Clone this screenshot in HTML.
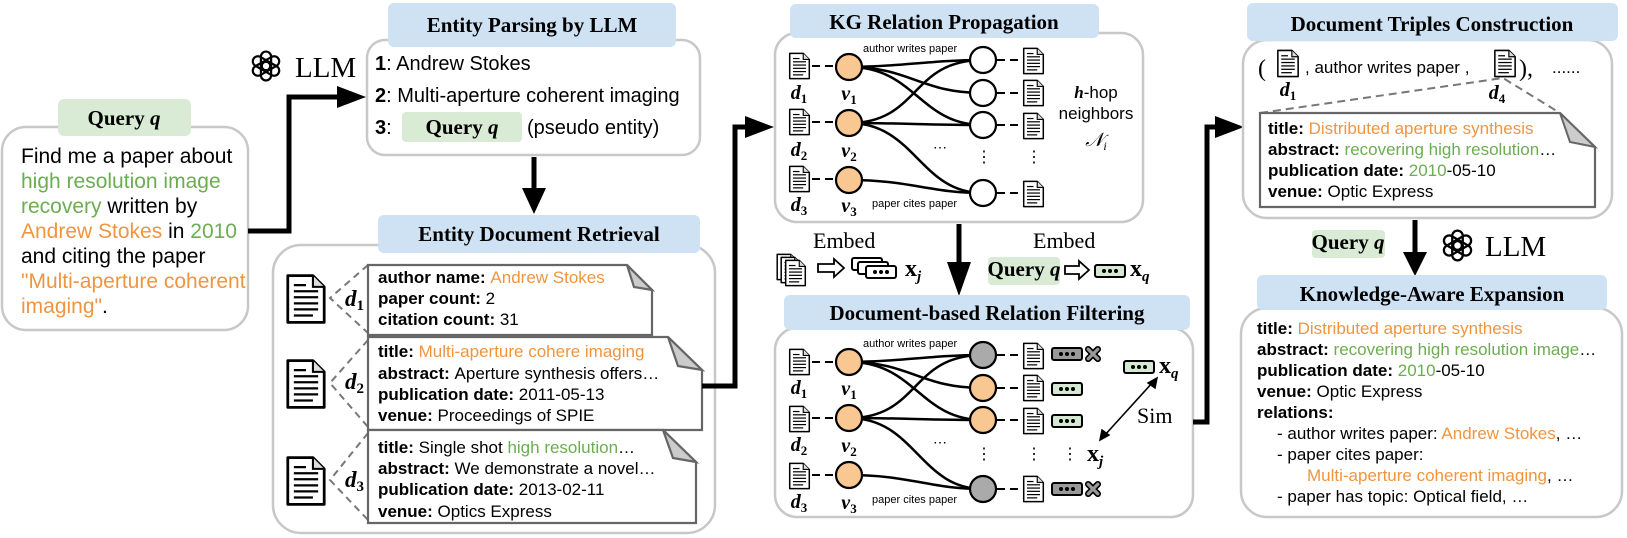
<!DOCTYPE html>
<html><head><meta charset="utf-8"><style>
html,body{margin:0;padding:0;background:#fff;}
svg{display:block;}
.s{font-family:"Liberation Sans",sans-serif;}
.r{font-family:"Liberation Serif",serif;}
.hd{font-family:"Liberation Serif",serif;font-weight:bold;font-size:21px;text-anchor:middle;}
.o{fill:#ef9540;} .g{fill:#6cad52;}
.eb rect{stroke:#000;stroke-width:2;}
</style></head><body>
<svg width="1627" height="538" viewBox="0 0 1627 538" xmlns="http://www.w3.org/2000/svg">
<defs>
<symbol id="doc" viewBox="0 0 24 30">
<path d="M1.5 1.5H16L22.5 8V28.5H1.5Z" fill="#fff" stroke="#000" stroke-width="1.6" stroke-linejoin="round"/>
<path d="M16 1.5V8H22.5" fill="#ddd" stroke="#000" stroke-width="1.2"/>
<g stroke="#000" stroke-width="1.3"><line x1="5" y1="7" x2="12" y2="7"/><line x1="5" y1="10.5" x2="19" y2="10.5"/><line x1="5" y1="14" x2="19" y2="14"/><line x1="5" y1="17.5" x2="19" y2="17.5"/><line x1="5" y1="21" x2="19" y2="21"/><line x1="5" y1="24.5" x2="16" y2="24.5"/></g>
</symbol>
<symbol id="dots" viewBox="0 0 32 14">
<circle cx="10" cy="7" r="2"/><circle cx="16" cy="7" r="2"/><circle cx="22" cy="7" r="2"/>
</symbol>
<symbol id="llm" viewBox="-20 -20 40 40">
<g fill="none" stroke="#000" stroke-width="2.6">
<rect x="-6" y="-17" width="12" height="22" rx="6"/>
<rect x="-6" y="-17" width="12" height="22" rx="6" transform="rotate(60)"/>
<rect x="-6" y="-17" width="12" height="22" rx="6" transform="rotate(120)"/>
<rect x="-6" y="-17" width="12" height="22" rx="6" transform="rotate(180)"/>
<rect x="-6" y="-17" width="12" height="22" rx="6" transform="rotate(240)"/>
<rect x="-6" y="-17" width="12" height="22" rx="6" transform="rotate(300)"/>
</g>
</symbol>
<symbol id="xm" viewBox="0 0 20 20">
<g stroke-linecap="round"><path d="M4 4L16 16M16 4L4 16" stroke="#000" stroke-width="8"/><path d="M4 4L16 16M16 4L4 16" stroke="#999" stroke-width="4"/></g>
</symbol>
</defs>

<!-- Query box -->
<rect x="2" y="127" width="246" height="203" rx="24" fill="#fff" stroke="#c8c8c8" stroke-width="2.5"/>
<rect x="58" y="99" width="133" height="37" rx="6" fill="#d9ebd4"/>
<text x="124" y="125" class="hd">Query <tspan font-style="italic">q</tspan></text>
<g class="s" font-size="21">
<text x="21" y="163">Find me a paper about</text>
<text x="21" y="188" class="g">high resolution image</text>
<text x="21" y="213"><tspan class="g">recovery</tspan> written by</text>
<text x="21" y="238"><tspan class="o">Andrew Stokes</tspan> in <tspan class="g">2010</tspan></text>
<text x="21" y="263">and citing the paper</text>
<text x="21" y="288" class="o">"Multi-aperture coherent</text>
<text x="21" y="313"><tspan class="o">imaging"</tspan>.</text>
</g>

<!-- Arrow query -> parsing -->
<path d="M248 231H289V97H340" fill="none" stroke="#000" stroke-width="5"/>
<path d="M337 86L366 97L337 108Z"/>
<use href="#llm" x="249" y="49" width="34" height="34"/>
<text x="295" y="77" class="r" font-size="29">LLM</text>

<!-- Entity Parsing -->
<rect x="367" y="40" width="333" height="115" rx="18" fill="#fff" stroke="#c8c8c8" stroke-width="2.5"/>
<rect x="388" y="3" width="288" height="44" rx="6" fill="#cfe2f3"/>
<text x="532" y="32" class="hd">Entity Parsing by LLM</text>
<g class="s" font-size="20">
<text x="375" y="70"><tspan font-weight="bold">1</tspan>: Andrew Stokes</text>
<text x="375" y="102"><tspan font-weight="bold">2</tspan>: Multi-aperture coherent imaging</text>
<text x="375" y="134"><tspan font-weight="bold">3</tspan>:</text>
<text x="527" y="134">(pseudo entity)</text>
</g>
<rect x="402" y="112" width="120" height="30" rx="4" fill="#d9ebd4"/>
<text x="462" y="134" class="hd" font-size="19">Query <tspan font-style="italic">q</tspan></text>

<!-- down arrow -->
<line x1="534" y1="157" x2="534" y2="190" stroke="#000" stroke-width="5"/>
<path d="M522 188L546 188L534 214Z"/>

<!-- Entity Document Retrieval -->
<rect x="273" y="245" width="442" height="288" rx="28" fill="#fff" stroke="#c8c8c8" stroke-width="2.5"/>
<rect x="378" y="215" width="322" height="38" rx="6" fill="#cfe2f3"/>
<text x="539" y="241" class="hd">Entity Document Retrieval</text>
<use href="#doc" x="285" y="273" width="42" height="52"/>
<use href="#doc" x="285" y="358" width="42" height="52"/>
<use href="#doc" x="285" y="455" width="42" height="52"/>
<g stroke="#777" stroke-width="2" stroke-dasharray="7,5" fill="none">
<path d="M368 265L330 298L368 333"/>
<path d="M368 340L330 383L368 427"/>
<path d="M368 433L330 480L368 520"/>
</g>
<g class="r" font-style="italic" font-weight="bold" font-size="23">
<text x="345" y="306">d<tspan font-size="15" font-style="normal" dy="4">1</tspan></text>
<text x="345" y="389">d<tspan font-size="15" font-style="normal" dy="4">2</tspan></text>
<text x="345" y="487">d<tspan font-size="15" font-style="normal" dy="4">3</tspan></text>
</g>
<!-- cards -->
<g stroke="#666" stroke-width="2.2">
<path d="M368 265H627L652 290V335H368Z" fill="#fff"/><path d="M627 265L634 287L652 290Z" fill="#ccc"/>
<path d="M368 337H668L702 370V430H368Z" fill="#fff"/><path d="M668 337L678 366L702 370Z" fill="#ccc"/>
<path d="M368 430H663L696 462V523H368Z" fill="#fff"/><path d="M663 430L673 458L696 462Z" fill="#ccc"/>
</g>
<g class="s" font-size="17">
<text x="378" y="283"><tspan font-weight="bold">author name: </tspan><tspan class="o">Andrew Stokes</tspan></text>
<text x="378" y="304"><tspan font-weight="bold">paper count: </tspan>2</text>
<text x="378" y="325"><tspan font-weight="bold">citation count: </tspan>31</text>
<text x="378" y="357"><tspan font-weight="bold">title: </tspan><tspan class="o">Multi-aperture cohere imaging</tspan></text>
<text x="378" y="379"><tspan font-weight="bold">abstract: </tspan>Aperture synthesis offers…</text>
<text x="378" y="400"><tspan font-weight="bold">publication date: </tspan>2011-05-13</text>
<text x="378" y="421"><tspan font-weight="bold">venue: </tspan>Proceedings of SPIE</text>
<text x="378" y="453"><tspan font-weight="bold">title: </tspan>Single shot <tspan class="g">high resolution</tspan>…</text>
<text x="378" y="474"><tspan font-weight="bold">abstract: </tspan>We demonstrate a novel…</text>
<text x="378" y="495"><tspan font-weight="bold">publication date: </tspan>2013-02-11</text>
<text x="378" y="517"><tspan font-weight="bold">venue: </tspan>Optics Express</text>
</g>

<!-- arrow retrieval -> KG -->
<path d="M702 386H735V127H750" fill="none" stroke="#000" stroke-width="5"/>
<path d="M745 116L774 127L745 138Z"/>

<!-- KG Relation Propagation -->
<rect x="775" y="33" width="368" height="189" rx="22" fill="#fff" stroke="#c8c8c8" stroke-width="2.5"/>
<rect x="790" y="4" width="309" height="34" rx="6" fill="#cfe2f3"/>
<text x="944" y="29" class="hd">KG Relation Propagation</text>

<g>
<use href="#doc" x="788" y="52" width="23" height="28"/>
<use href="#doc" x="788" y="108" width="23" height="28"/>
<use href="#doc" x="788" y="165" width="23" height="28"/>
<g stroke="#000" stroke-width="2" stroke-dasharray="8,5"><line x1="812" y1="66" x2="836" y2="66"/><line x1="812" y1="122" x2="836" y2="122"/><line x1="812" y1="179" x2="836" y2="179"/></g>
<g fill="none" stroke="#000" stroke-width="2.5">
<path d="M849 67C900 67 930 60 983 60"/>
<path d="M849 67C910 67 920 93 983 93"/>
<path d="M849 67C915 67 920 125 983 125"/>
<path d="M849 123C920 123 910 60 983 60"/>
<path d="M849 123C900 123 930 125 983 125"/>
<path d="M849 123C915 123 920 193 983 193"/>
<path d="M849 180C910 180 930 193 983 193"/>
</g>
<g fill="#f9c791" stroke="#000" stroke-width="2.2"><circle cx="849" cy="67" r="13"/><circle cx="849" cy="123" r="13"/><circle cx="849" cy="180" r="13"/></g>
<g fill="#fff" stroke="#000" stroke-width="2.2"><circle cx="983" cy="60" r="13"/><circle cx="983" cy="93" r="13"/><circle cx="983" cy="125" r="13"/><circle cx="983" cy="193" r="13"/></g>
<g stroke="#000" stroke-width="2" stroke-dasharray="8,5"><line x1="997" y1="60" x2="1021" y2="60"/><line x1="997" y1="93" x2="1021" y2="93"/><line x1="997" y1="125" x2="1021" y2="125"/><line x1="997" y1="193" x2="1021" y2="193"/></g>
<use href="#doc" x="1022" y="47" width="23" height="28"/>
<use href="#doc" x="1022" y="79" width="23" height="28"/>
<use href="#doc" x="1022" y="112" width="23" height="28"/>
<use href="#doc" x="1022" y="180" width="23" height="28"/>
</g>
<g class="r" font-style="italic" font-size="20" font-weight="bold" text-anchor="middle">
<text x="799" y="99">d<tspan font-size="13" font-style="normal" dy="4">1</tspan></text>
<text x="799" y="156">d<tspan font-size="13" font-style="normal" dy="4">2</tspan></text>
<text x="799" y="211">d<tspan font-size="13" font-style="normal" dy="4">3</tspan></text>
<text x="849" y="100">v<tspan font-size="13" font-style="normal" dy="4">1</tspan></text>
<text x="849" y="157">v<tspan font-size="13" font-style="normal" dy="4">2</tspan></text>
<text x="849" y="212">v<tspan font-size="13" font-style="normal" dy="4">3</tspan></text>
</g>
<text x="863" y="52" class="s" font-size="11">author writes paper</text>
<text x="872" y="207" class="s" font-size="11">paper cites paper</text>
<text x="940" y="152" class="s" font-size="14" text-anchor="middle">⋯</text>
<text x="984" y="162" class="s" font-size="16" text-anchor="middle">⋮</text>
<text x="1034" y="162" class="s" font-size="16" text-anchor="middle">⋮</text>
<text x="1096" y="98" class="s" font-size="17" text-anchor="middle"><tspan class="r" font-style="italic" font-weight="bold">h</tspan>-hop</text>
<text x="1096" y="119" class="s" font-size="17" text-anchor="middle">neighbors</text>
<text x="1096" y="146" class="r" font-size="19" font-style="italic" text-anchor="middle">𝒩<tspan font-size="12" dy="4">i</tspan></text>

<!-- middle arrow -->
<line x1="959" y1="224" x2="959" y2="266" stroke="#000" stroke-width="5"/>
<path d="M947 262L971 262L959 296Z"/>

<!-- Embed row -->
<text x="813" y="248" class="r" font-size="22">Embed</text>
<use href="#doc" x="775" y="253" width="24" height="28"/>
<use href="#doc" x="779" y="256" width="24" height="28"/>
<use href="#doc" x="783" y="259" width="25" height="28"/>
<path d="M818 264H834V259L844 268L834 277V272H818Z" fill="#fff" stroke="#000" stroke-width="1.8"/>
<g class="eb">
<rect x="852" y="258" width="30" height="12" rx="2" fill="#fff"/>
<rect x="858" y="262" width="30" height="12" rx="2" fill="#fff"/>
<rect x="866" y="266" width="30" height="12" rx="2" fill="#fff"/>
</g>
<use href="#dots" x="865" y="265" width="32" height="14"/>
<text x="905" y="276" class="r" font-size="24" font-weight="bold">x<tspan font-size="15" font-style="italic" dy="5">j</tspan></text>

<text x="1033" y="248" class="r" font-size="22">Embed</text>
<rect x="988" y="257" width="72" height="28" rx="4" fill="#d9ebd4"/>
<text x="1024" y="276" class="hd" font-size="16">Query <tspan font-style="italic">q</tspan></text>
<path d="M1065 266H1079V261L1089 270L1079 279V274H1065Z" fill="#fff" stroke="#000" stroke-width="1.8"/>
<g class="eb"><rect x="1095" y="265" width="30" height="12" rx="2" fill="#d5e8d4"/></g>
<use href="#dots" x="1094" y="264" width="32" height="14"/>
<text x="1130" y="276" class="r" font-size="24" font-weight="bold">x<tspan font-size="15" font-style="italic" dy="5">q</tspan></text>

<!-- DRF -->
<rect x="775" y="328" width="418" height="189" rx="22" fill="#fff" stroke="#c8c8c8" stroke-width="2.5"/>
<rect x="784" y="295" width="406" height="35" rx="6" fill="#cfe2f3"/>
<text x="987" y="320" class="hd">Document-based Relation Filtering</text>
<g>
<use href="#doc" x="788" y="348" width="23" height="28"/>
<use href="#doc" x="788" y="405" width="23" height="28"/>
<use href="#doc" x="788" y="462" width="23" height="28"/>
<g stroke="#000" stroke-width="2" stroke-dasharray="8,5"><line x1="812" y1="362" x2="836" y2="362"/><line x1="812" y1="418" x2="836" y2="418"/><line x1="812" y1="475" x2="836" y2="475"/></g>
<g fill="none" stroke="#000" stroke-width="2.5">
<path d="M849 362C900 362 930 355 983 355"/>
<path d="M849 362C910 362 920 388 983 388"/>
<path d="M849 362C915 362 920 420 983 420"/>
<path d="M849 418C920 418 910 355 983 355"/>
<path d="M849 418C900 418 930 420 983 420"/>
<path d="M849 418C915 418 920 489 983 489"/>
<path d="M849 475C910 475 930 489 983 489"/>
</g>
<g fill="#f9c791" stroke="#000" stroke-width="2.2"><circle cx="849" cy="362" r="13"/><circle cx="849" cy="418" r="13"/><circle cx="849" cy="475" r="13"/><circle cx="983" cy="388" r="13"/><circle cx="983" cy="420" r="13"/></g>
<g fill="#aaa" stroke="#000" stroke-width="2.2"><circle cx="983" cy="355" r="13"/><circle cx="983" cy="489" r="13"/></g>
<g stroke="#000" stroke-width="2" stroke-dasharray="8,5"><line x1="997" y1="355" x2="1021" y2="355"/><line x1="997" y1="388" x2="1021" y2="388"/><line x1="997" y1="420" x2="1021" y2="420"/><line x1="997" y1="489" x2="1021" y2="489"/></g>
<use href="#doc" x="1022" y="342" width="23" height="28"/>
<use href="#doc" x="1022" y="374" width="23" height="28"/>
<use href="#doc" x="1022" y="407" width="23" height="28"/>
<use href="#doc" x="1022" y="475" width="23" height="28"/>
<g class="eb">
<rect x="1052" y="348" width="30" height="12" rx="2" fill="#999"/>
<rect x="1052" y="383" width="30" height="12" rx="2" fill="#d5e8d4"/>
<rect x="1052" y="415" width="30" height="12" rx="2" fill="#d5e8d4"/>
<rect x="1052" y="483" width="30" height="12" rx="2" fill="#999"/>
</g>
<use href="#dots" x="1051" y="347" width="32" height="14"/>
<use href="#dots" x="1051" y="382" width="32" height="14"/>
<use href="#dots" x="1051" y="414" width="32" height="14"/>
<use href="#dots" x="1051" y="482" width="32" height="14"/>
<use href="#xm" x="1085" y="346" width="16" height="16"/>
<use href="#xm" x="1085" y="481" width="16" height="16"/>
</g>
<g class="r" font-style="italic" font-size="20" font-weight="bold" text-anchor="middle">
<text x="799" y="394">d<tspan font-size="13" font-style="normal" dy="4">1</tspan></text>
<text x="799" y="451">d<tspan font-size="13" font-style="normal" dy="4">2</tspan></text>
<text x="799" y="508">d<tspan font-size="13" font-style="normal" dy="4">3</tspan></text>
<text x="849" y="395">v<tspan font-size="13" font-style="normal" dy="4">1</tspan></text>
<text x="849" y="452">v<tspan font-size="13" font-style="normal" dy="4">2</tspan></text>
<text x="849" y="509">v<tspan font-size="13" font-style="normal" dy="4">3</tspan></text>
</g>
<text x="863" y="347" class="s" font-size="11">author writes paper</text>
<text x="872" y="503" class="s" font-size="11">paper cites paper</text>
<text x="940" y="447" class="s" font-size="14" text-anchor="middle">⋯</text>
<text x="984" y="459" class="s" font-size="16" text-anchor="middle">⋮</text>
<text x="1034" y="459" class="s" font-size="16" text-anchor="middle">⋮</text>
<text x="1070" y="459" class="s" font-size="16" text-anchor="middle">⋮</text>
<g class="eb"><rect x="1124" y="361" width="30" height="12" rx="2" fill="#d5e8d4"/></g>
<use href="#dots" x="1123" y="360" width="32" height="14"/>
<text x="1159" y="373" class="r" font-size="24" font-weight="bold">x<tspan font-size="15" font-style="italic" dy="5">q</tspan></text>
<text x="1087" y="461" class="r" font-size="24" font-weight="bold">x<tspan font-size="15" font-style="italic" dy="5">j</tspan></text>
<text x="1137" y="423" class="r" font-size="22">Sim</text>
<line x1="1104" y1="436" x2="1153" y2="382" stroke="#000" stroke-width="1.6"/>
<path d="M1100 440L1102 430L1109 435Z M1157 378L1155 388L1148 383Z" stroke="#000" stroke-width="1.5"/>

<!-- arrow DRF -> DTC -->
<path d="M1193 422H1207V127H1220" fill="none" stroke="#000" stroke-width="5"/>
<path d="M1215 116L1244 127L1215 138Z"/>

<!-- DTC -->
<rect x="1243" y="40" width="369" height="178" rx="24" fill="#fff" stroke="#c8c8c8" stroke-width="2.5"/>
<rect x="1247" y="3" width="371" height="38" rx="6" fill="#cfe2f3"/>
<text x="1432" y="31" class="hd">Document Triples Construction</text>
<text x="1258" y="76" class="r" font-size="24">(</text>
<use href="#doc" x="1276" y="49" width="24" height="29"/>
<text x="1305" y="73" class="s" font-size="17">, author writes paper ,</text>
<use href="#doc" x="1493" y="49" width="24" height="29"/>
<text x="1519" y="76" class="r" font-size="24">),</text>
<text x="1552" y="73" class="s" font-size="17">......</text>
<g class="r" font-style="italic" font-size="20" font-weight="bold" text-anchor="middle">
<text x="1288" y="96">d<tspan font-size="13" font-style="normal" dy="4">1</tspan></text>
<text x="1497" y="99">d<tspan font-size="13" font-style="normal" dy="4">4</tspan></text>
</g>
<g stroke="#777" stroke-width="2" stroke-dasharray="8,5" fill="none"><path d="M1260 113L1503 78L1560 113"/></g>
<path d="M1260 113H1560L1595 147V207H1260Z" fill="#fff" stroke="#666" stroke-width="2.2"/>
<path d="M1560 113L1570 142L1595 147Z" fill="#ccc" stroke="#666" stroke-width="2"/>
<g class="s" font-size="17">
<text x="1268" y="134"><tspan font-weight="bold">title: </tspan><tspan class="o">Distributed aperture synthesis</tspan></text>
<text x="1268" y="155"><tspan font-weight="bold">abstract: </tspan><tspan class="g">recovering high resolution</tspan>…</text>
<text x="1268" y="176"><tspan font-weight="bold">publication date: </tspan><tspan class="g">2010</tspan>-05-10</text>
<text x="1268" y="197"><tspan font-weight="bold">venue: </tspan>Optic Express</text>
</g>

<!-- arrow DTC -> KE -->
<line x1="1415" y1="220" x2="1415" y2="256" stroke="#000" stroke-width="5"/>
<path d="M1403 252L1427 252L1415 276Z"/>
<rect x="1312" y="230" width="73" height="28" rx="4" fill="#d9ebd4"/>
<text x="1348" y="249" class="hd" font-size="16">Query <tspan font-style="italic">q</tspan></text>
<use href="#llm" x="1440" y="228" width="35" height="35"/>
<text x="1485" y="256" class="r" font-size="29">LLM</text>

<!-- KE -->
<rect x="1241" y="308" width="381" height="209" rx="26" fill="#fff" stroke="#c8c8c8" stroke-width="2.5"/>
<rect x="1257" y="275" width="350" height="35" rx="6" fill="#cfe2f3"/>
<text x="1432" y="301" class="hd">Knowledge-Aware Expansion</text>
<g class="s" font-size="17">
<text x="1257" y="334"><tspan font-weight="bold">title: </tspan><tspan class="o">Distributed aperture synthesis</tspan></text>
<text x="1257" y="355"><tspan font-weight="bold">abstract: </tspan><tspan class="g">recovering high resolution image</tspan>…</text>
<text x="1257" y="376"><tspan font-weight="bold">publication date: </tspan><tspan class="g">2010</tspan>-05-10</text>
<text x="1257" y="397"><tspan font-weight="bold">venue: </tspan>Optic Express</text>
<text x="1257" y="418" font-weight="bold">relations:</text>
<text x="1277" y="439">- author writes paper: <tspan class="o">Andrew Stokes</tspan>, …</text>
<text x="1277" y="460">- paper cites paper:</text>
<text x="1307" y="481"><tspan class="o">Multi-aperture coherent imaging</tspan>, …</text>
<text x="1277" y="502">- paper has topic: Optical field, …</text>
</g>
</svg>
</body></html>
